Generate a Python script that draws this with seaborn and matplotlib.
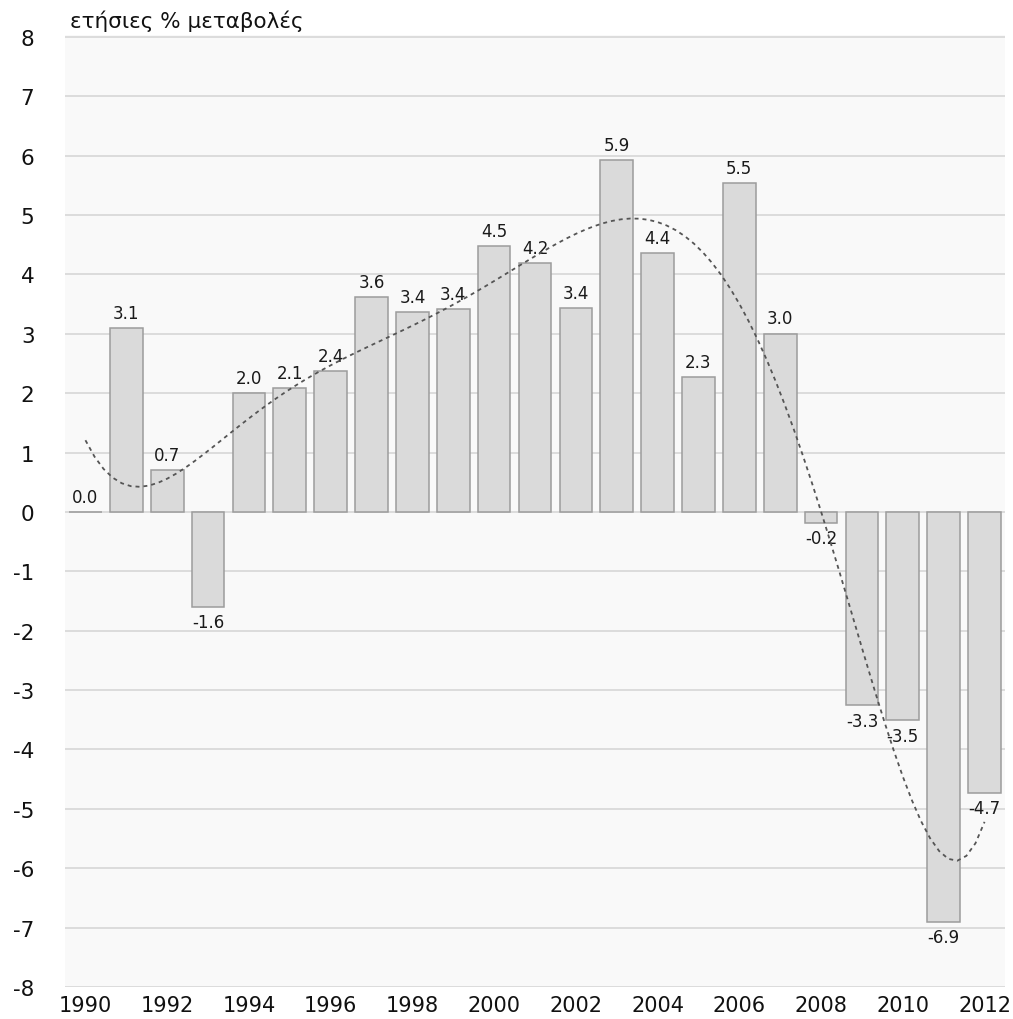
import numpy as np
import pandas as pd
import matplotlib
matplotlib.use("Agg")
import matplotlib.pyplot as plt
import seaborn as sns

years = [1990, 1991, 1992, 1993, 1994, 1995, 1996, 1997, 1998, 1999, 2000,
         2001, 2002, 2003, 2004, 2005, 2006, 2007, 2008, 2009, 2010, 2011, 2012]
values = [0.0, 3.1, 0.7, -1.6, 2.0, 2.08, 2.37, 3.62, 3.37, 3.41, 4.48,
          4.19, 3.43, 5.92, 4.36, 2.27, 5.54, 3.0, -0.18, -3.26, -3.51, -6.9, -4.73]
title = "ετήσιες % μεταβολές"
yticks = list(range(-8, 9))

sns.set_theme(style="white")
plt.rcParams['font.family'] = ['DejaVu Sans']

df = pd.DataFrame({"year": [str(y) for y in years], "value": values})
df["pos"] = np.arange(len(df))

fig = plt.figure(figsize=(10.13, 10.20), dpi=100)
ax = fig.add_axes([65 / 1013, 1 - 988 / 1020, 940 / 1013, (988 - 36) / 1020])
ax.set_facecolor("#f9f9f9")

sns.barplot(data=df, x="year", y="value", ax=ax, color="#dadada", width=0.8,
            edgecolor="#9c9c9c", linewidth=1.1, saturation=1, zorder=2)
ax.bar_label(ax.containers[0], fmt="%.1f", padding=4.5, fontsize=12, color="#1a1a1a")

sns.regplot(data=df, x="pos", y="value", order=6, ci=None, scatter=False, ax=ax,
            line_kws=dict(color="#555555", lw=1.3, linestyle=(0, (2.2, 2.2)), zorder=3))

ax.set_xlim(-0.5, 22.5)
ax.set_ylim(-8, 8.03)
ax.set_yticks(yticks)
ax.set_yticklabels([str(t) for t in yticks])
ax.set_xticks(range(0, len(years), 2))
ax.set_xticklabels([str(y) for y in years[::2]])
ax.yaxis.grid(True, color="#d4d4d4", lw=1.1, zorder=0)
ax.set_axisbelow(True)
ax.tick_params(axis="y", length=0, pad=22, labelsize=15.5, labelcolor="#111111")
ax.tick_params(axis="x", length=0, pad=6, labelsize=15, labelcolor="#111111")
for s in ax.spines.values():
    s.set_visible(False)
ax.set_xlabel("")
ax.set_ylabel("")

fig.text(70 / 1013, 1 - 21 / 1020, title, fontsize=15.5, va="center", ha="left", color="#111111")

fig.savefig("out.png", dpi=100, facecolor="white")
